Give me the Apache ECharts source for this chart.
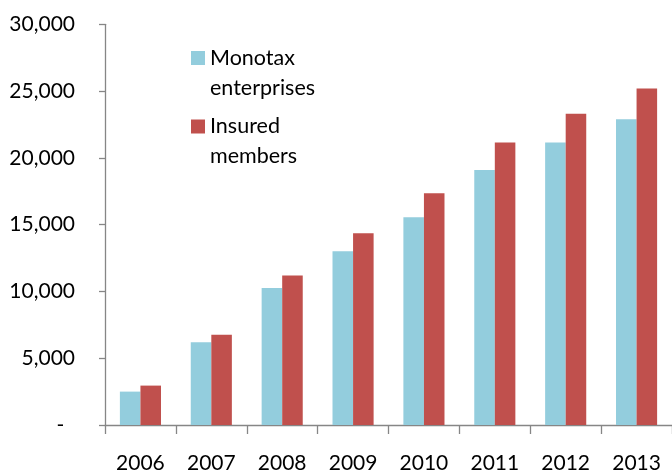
<!DOCTYPE html>
<html>
<head>
<meta charset="utf-8">
<script src="https://cdn.jsdelivr.net/npm/echarts@6/dist/echarts.min.js"></script>
<style>
html,body{margin:0;padding:0;background:#fff;}
#chart{width:672px;height:474px;}
</style>
</head>
<body>
<div id="chart"></div>
<script>
const categories = ['2006','2007','2008','2009','2010','2011','2012','2013'];
const monotaxEnterprises = [2500, 6200, 10250, 13000, 15550, 19100, 21150, 22900];
const insuredMembers = [2950, 6750, 11200, 14350, 17350, 21150, 23300, 25200];
const seriesNames = ['Monotax\nenterprises', 'Insured\nmembers'];
const yTicks = { min: 0, max: 30000, interval: 5000 };

const FONT = 'Lato';
const chart = echarts.init(document.getElementById('chart'), null, { renderer: 'canvas' });
function fmt(v) {
  if (v === 0) return '-  ';
  return String(v).replace(/\B(?=(\d{3})+(?!\d))/g, ',');
}
chart.setOption({
  animation: false,
  backgroundColor: '#ffffff',
  grid: { left: 105, right: 0, top: 24.3, bottom: 42.7, containLabel: false },
  legend: {
    orient: 'vertical',
    left: 186,
    top: 8,
    itemWidth: 14,
    itemHeight: 14,
    itemGap: -21.5,
    icon: 'rect',
    formatter: function (name) { return '\n' + name; },
    textStyle: { fontFamily: FONT, fontSize: 21.5, color: '#000', lineHeight: 30 },
    data: seriesNames
  },
  xAxis: {
    type: 'category',
    data: categories,
    boundaryGap: true,
    axisLine: { lineStyle: { color: '#868686', width: 1.3 } },
    axisTick: { show: true, length: 9, inside: false, lineStyle: { color: '#868686', width: 1.3 } },
    axisLabel: { fontFamily: FONT, fontSize: 21, color: '#000', margin: 28 },
    splitLine: { show: false }
  },
  yAxis: {
    type: 'value',
    min: yTicks.min, max: yTicks.max, interval: yTicks.interval,
    axisLine: { show: true, lineStyle: { color: '#868686', width: 1.3 } },
    axisTick: { show: true, length: 6, lineStyle: { color: '#868686', width: 1.3 } },
    axisLabel: { fontFamily: FONT, fontSize: 21, color: '#000', margin: 30, formatter: fmt },
    splitLine: { show: false }
  },
  series: [
    { name: seriesNames[0], type: 'bar', data: monotaxEnterprises, barGap: '0%', barCategoryGap: '42%',
      itemStyle: { color: '#93CDDD' } },
    { name: seriesNames[1], type: 'bar', data: insuredMembers, barGap: '0%', barCategoryGap: '42%',
      itemStyle: { color: '#C0504D' } }
  ]
});
</script>
</body>
</html>
